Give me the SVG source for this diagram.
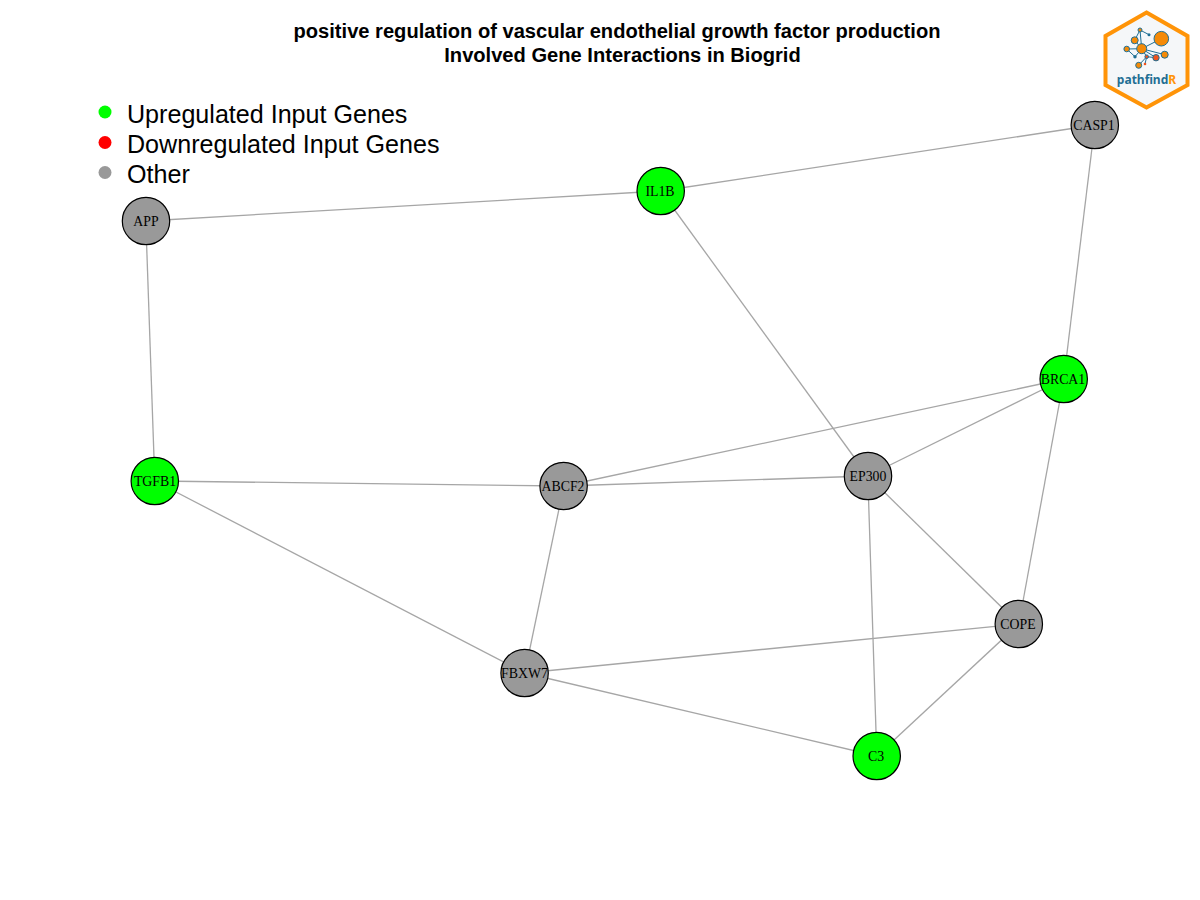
<svg xmlns="http://www.w3.org/2000/svg" width="1200" height="900" viewBox="0 0 1200 900">
<style>
.e{stroke:#a6a6a6;stroke-width:1.3;fill:none}
.n{stroke:#000;stroke-width:1.2}
.up{fill:#00ff00}.ot{fill:#999999}
.l{font-family:"Liberation Serif",serif;font-size:13.800px;text-anchor:middle;fill:#000}
.t{font-family:"Liberation Sans",sans-serif;font-size:20.120px;font-weight:bold;text-anchor:middle;fill:#000}
.g{font-family:"Liberation Sans",sans-serif;font-size:25.100px;fill:#000}
.w{stroke:#1f6f94;stroke-width:1;fill:none}
.o{fill:#f58a07;stroke:#1f6f94;stroke-width:1}
.r{fill:#f0531e;stroke:#1f6f94;stroke-width:1}
.b{fill:#1f6f94}
</style>
<rect width="1200" height="900" fill="#fff"/>
<g id="title">
<text class="t" x="617" y="38">positive regulation of vascular endothelial growth factor production</text>
<text class="t" x="622.500" y="62">Involved Gene Interactions in Biogrid</text>
</g>
<g id="legend">
<circle cx="105" cy="112" r="6.500" fill="#00ff00"/><text class="g" x="127" y="123">Upregulated Input Genes</text>
<circle cx="105" cy="142.500" r="6.500" fill="#ff0000"/><text class="g" x="127" y="153">Downregulated Input Genes</text>
<circle cx="105" cy="172.500" r="6.500" fill="#999999"/><text class="g" x="127" y="183">Other</text>
</g>
<g id="edges" transform="translate(-0.2 0)">
<line class="e" x1="146" y1="221" x2="661" y2="191"/>
<line class="e" x1="661" y1="191" x2="1095" y2="125"/>
<line class="e" x1="146" y1="221" x2="155" y2="481"/>
<line class="e" x1="1095" y1="125" x2="1064" y2="379"/>
<line class="e" x1="661" y1="191" x2="868" y2="476"/>
<line class="e" x1="155" y1="481" x2="564" y2="486"/>
<line class="e" x1="155" y1="481" x2="525" y2="673"/>
<line class="e" x1="564" y1="486" x2="1064" y2="379"/>
<line class="e" x1="564" y1="486" x2="868" y2="476"/>
<line class="e" x1="564" y1="486" x2="525" y2="673"/>
<line class="e" x1="868" y1="476" x2="1064" y2="379"/>
<line class="e" x1="868" y1="476" x2="1019" y2="624"/>
<line class="e" x1="868" y1="476" x2="877" y2="756"/>
<line class="e" x1="1064" y1="379" x2="1019" y2="624"/>
<line class="e" x1="525" y1="673" x2="1019" y2="624"/>
<line class="e" x1="525" y1="673" x2="877" y2="756"/>
<line class="e" x1="1019" y1="624" x2="877" y2="756"/>
</g>
<g id="node-APP"><circle class="n ot" cx="146" cy="221" r="23.700"/><text class="l" x="146" y="225.500">APP</text></g>
<g id="node-IL1B"><circle class="n up" cx="660.700" cy="191" r="23.700"/><text class="l" x="660" y="195.500">IL1B</text></g>
<g id="node-CASP1"><circle class="n ot" cx="1094.800" cy="125" r="23.700"/><text class="l" x="1094" y="129.500">CASP1</text></g>
<g id="node-BRCA1"><circle class="n up" cx="1063.700" cy="379" r="23.700"/><text class="l" x="1063" y="383.500">BRCA1</text></g>
<g id="node-TGFB1"><circle class="n up" cx="154.800" cy="481" r="23.700"/><text class="l" x="155" y="485.500">TGFB1</text></g>
<g id="node-ABCF2"><circle class="n ot" cx="563.600" cy="486" r="23.700"/><text class="l" x="563" y="490.500">ABCF2</text></g>
<g id="node-EP300"><circle class="n ot" cx="868" cy="476" r="23.700"/><text class="l" x="868" y="480.500">EP300</text></g>
<g id="node-COPE"><circle class="n ot" cx="1018.800" cy="624" r="23.700"/><text class="l" x="1018" y="628.500">COPE</text></g>
<g id="node-FBXW7"><circle class="n ot" cx="524.600" cy="673" r="23.700"/><text class="l" x="524.500" y="677.500">FBXW7</text></g>
<g id="node-C3"><circle class="n up" cx="876.700" cy="756" r="23.700"/><text class="l" x="876" y="760.500">C3</text></g>
<g id="logo">
<polygon points="1146.500,12.500 1187.500,36 1187.500,85 1146.500,107.500 1105.500,85 1105.500,36" fill="#f5f7f9" stroke="#ff9408" stroke-width="4"/>
<path class="w" d="M1141.700 48.700L1134.700 40.300L1140 30L1149 34.700M1141.700 48.700L1140 30M1141.700 48.700L1161.300 38.700M1141.700 48.700L1126.700 49L1135 56.700M1141.700 48.700L1135 56.700M1141.700 48.700L1146.700 56.700L1138.700 65.300M1141.700 48.700L1156 57.700L1146.700 56.700M1141.700 48.700L1164.700 54.700M1146.700 56.700L1145 64"/>
<circle class="o" cx="1161.300" cy="38.700" r="7.300"/>
<circle class="o" cx="1141.700" cy="48.700" r="5"/>
<circle class="o" cx="1134.700" cy="40.300" r="3.500"/>
<circle class="o" cx="1140" cy="30" r="2"/>
<circle class="b" cx="1149" cy="34.700" r="1.500"/>
<circle class="o" cx="1126.700" cy="49" r="2.800"/>
<circle class="b" cx="1135" cy="56.700" r="1.700"/>
<circle class="o" cx="1164.700" cy="54.700" r="3.500"/>
<circle class="r" cx="1156" cy="57.700" r="3.200"/>
<circle class="r" cx="1146.700" cy="56.700" r="1.800"/>
<circle class="o" cx="1138.700" cy="65.300" r="3"/>
<circle cx="1145" cy="64" r="1.300" fill="#f0531e"/>
<text x="1146.500" y="84" font-family="'Noto Sans','Liberation Sans',sans-serif" font-size="12" font-weight="bold" text-anchor="middle" fill="#1f6f94">pathfind<tspan fill="#ff9408">R</tspan></text>
</g>
</svg>
